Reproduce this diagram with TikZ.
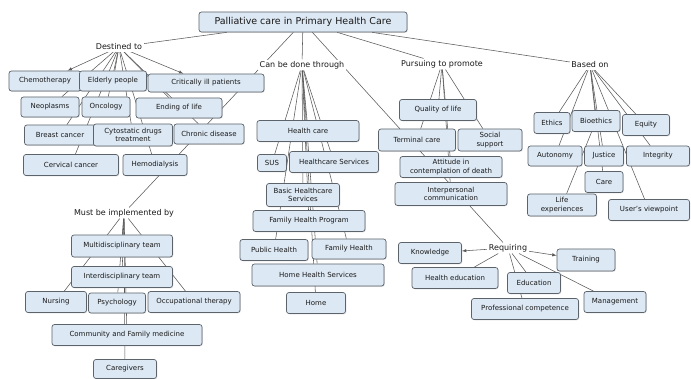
\documentclass[tikz,border=0pt]{standalone}
\usepackage{fontspec}
\setmainfont{DejaVu Sans}
\usetikzlibrary{backgrounds,shadows}
\definecolor{boxblue}{HTML}{DCE8F4}
\definecolor{boxline}{HTML}{5C636B}
\tikzset{
  concept/.style={draw=boxline, fill=boxblue, rounded corners=2.5pt, line width=0.7pt,
    minimum height=20pt, inner sep=1pt, align=center, text=black!90,
    font=\fontsize{7}{8.5}\selectfont,
    drop shadow={shadow xshift=0.8pt, shadow yshift=-0.8pt, opacity=0.25}},
  phrase/.style={fill=white, inner sep=1.5pt, text=black!90, font=\fontsize{8}{9}\selectfont},
  link/.style={draw=black!65, line width=0.55pt}
}
\begin{document}
\begin{tikzpicture}[x=1pt,y=-1pt]

\useasboundingbox (0,0) rectangle (691,379);

\node[concept, minimum width=208, font=\fontsize{9.5}{11}\selectfont] (title) at (303,22) {Palliative care in Primary Health Care};

% linking phrases
\node[phrase] (dest) at (119,47) {Destined to};
\node[phrase] (through) at (302,65) {Can be done through};
\node[phrase] (pursue) at (442,64) {Pursuing to promote};
\node[phrase] (based) at (590,65) {Based on};
\node[phrase] (must) at (124,213) {Must be implemented by};
\node[phrase] (requiring) at (508,248) {Requiring};

% destined to
\node[concept, minimum width=72] (chemo) at (45,81) {Chemotherapy};
\node[concept, minimum width=67] (elderly) at (113,81) {Elderly people};
\node[concept, minimum width=116, minimum height=18] (critical) at (206,83) {Critically ill patients};
\node[concept, minimum width=58] (neoplasms) at (50,107) {Neoplasms};
\node[concept, minimum width=48] (oncology) at (106,107) {Oncology};
\node[concept, minimum width=86] (ending) at (179,108) {Ending of life};
\node[concept, minimum width=71] (breast) at (60,135) {Breast cancer};
\node[concept, minimum width=79, minimum height=22] (cytostatic) at (133,135) {Cytostatic drugs\\treatment};
\node[concept, minimum width=70] (chronic) at (209,134) {Chronic disease};
\node[concept, minimum width=95, minimum height=21] (cervical) at (71,165) {Cervical cancer};
\node[concept, minimum width=64, minimum height=21] (hemodialysis) at (155,165) {Hemodialysis};

% can be done through
\node[concept, minimum width=102, minimum height=21] (healthcare) at (308,131) {Health care};
\node[concept, minimum width=29, minimum height=17] (sus) at (272,163) {SUS};
\node[concept, minimum width=89, minimum height=21] (hcservices) at (334,162) {Healthcare Services};
\node[concept, minimum width=73, minimum height=23] (basic) at (303,195) {Basic Healthcare\\Services};
\node[concept, minimum width=112, minimum height=21] (fhprogram) at (309,221) {Family Health Program};
\node[concept, minimum width=68, minimum height=21] (public) at (274,250) {Public Health};
\node[concept, minimum width=74] (familyhealth) at (349,249) {Family Health};
\node[concept, minimum width=132, minimum height=22] (homehealth) at (318,275) {Home Health Services};
\node[concept, minimum width=59, minimum height=21] (home) at (316,303) {Home};

% pursuing to promote
\node[concept, minimum width=77, minimum height=21] (quality) at (438,110) {Quality of life};
\node[concept, minimum width=77, minimum height=22] (terminal) at (417,140) {Terminal care};
\node[concept, minimum width=64, minimum height=22] (social) at (490,140) {Social\\support};
\node[concept, minimum width=102, minimum height=21] (attitude) at (451,167) {Attitude in\\contemplation of death};
\node[concept, minimum width=112, minimum height=23] (interpersonal) at (451,194) {Interpersonal\\communication};

% based on
\node[concept, minimum width=36, minimum height=21] (ethics) at (552,123) {Ethics};
\node[concept, minimum width=48, minimum height=21] (bioethics) at (596,121) {Bioethics};
\node[concept, minimum width=47, minimum height=21] (equity) at (646,125) {Equity};
\node[concept, minimum width=54] (autonomy) at (555,156) {Autonomy};
\node[concept, minimum width=39] (justice) at (604,156) {Justice};
\node[concept, minimum width=63] (integrity) at (658,156) {Integrity};
\node[concept, minimum width=38, minimum height=21] (care) at (604,182) {Care};
\node[concept, minimum width=69, minimum height=22] (lifeexp) at (562,205) {Life\\experiences};
\node[concept, minimum width=81, minimum height=21] (viewpoint) at (649,210) {User's viewpoint};

% requiring
\node[concept, minimum width=63, minimum height=21] (knowledge) at (430,253) {Knowledge};
\node[concept, minimum width=58, minimum height=22] (training) at (586,260) {Training};
\node[concept, minimum width=86, minimum height=21] (healthedu) at (455,278) {Health education};
\node[concept, minimum width=53, minimum height=21] (education) at (534,283) {Education};
\node[concept, minimum width=62, minimum height=21] (management) at (615,302) {Management};
\node[concept, minimum width=107, minimum height=21] (profcomp) at (525,309) {Professional competence};

% must be implemented by
\node[concept, minimum width=101, minimum height=22] (multi) at (122,246) {Multidisciplinary team};
\node[concept, minimum width=101, minimum height=21] (inter) at (122,277) {Interdisciplinary team};
\node[concept, minimum width=61, minimum height=21] (nursing) at (56,302) {Nursing};
\node[concept, minimum width=57] (psychology) at (117,303) {Psychology};
\node[concept, minimum width=92, minimum height=21] (occupational) at (194,302) {Occupational therapy};
\node[concept, minimum width=150, minimum height=21] (community) at (127,335) {Community and Family medicine};
\node[concept, minimum width=63, minimum height=19] (caregivers) at (125,369) {Caregivers};

\begin{scope}[on background layer]

\foreach \p in {dest,through,pursue,based,must,requiring}
  \draw[link] (title) -- (\p);

\draw[link, -latex] (dest) -- (chemo);
\draw[link, -latex] (dest) -- (critical);
\foreach \c in {elderly,neoplasms,oncology,ending,breast,cytostatic,chronic,cervical,hemodialysis}
  \draw[link] (dest) -- (\c);

\foreach \c in {healthcare,sus,hcservices,basic,fhprogram,public,familyhealth,homehealth,home}
  \draw[link] (through) -- (\c);

\foreach \c in {quality,terminal,social,attitude,interpersonal}
  \draw[link] (pursue) -- (\c);

\foreach \c in {ethics,bioethics,equity,autonomy,justice,integrity,care,viewpoint}
  \draw[link] (based) -- (\c);
\draw[link] (bioethics) -- (lifeexp);

\draw[link, -latex] (requiring) -- (knowledge);
\draw[link, -latex] (requiring) -- (training);
\foreach \c in {healthedu,education,management,profcomp}
  \draw[link] (requiring) -- (\c);

\foreach \c in {multi,inter,nursing,psychology,occupational,community,caregivers}
  \draw[link] (must) -- (\c);

\end{scope}

\end{tikzpicture}
\end{document}
